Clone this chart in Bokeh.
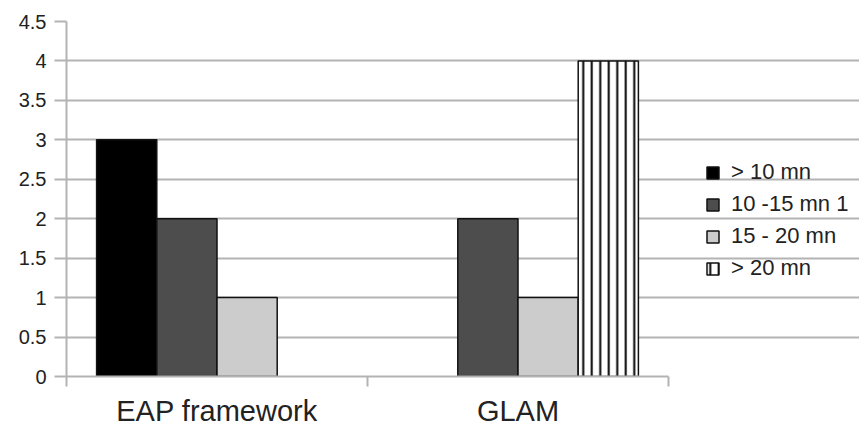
from bokeh.plotting import figure
from bokeh.models import ColumnDataSource, FixedTicker, Legend, LegendItem
from bokeh.embed import file_html
from bokeh.resources import INLINE

# ---- data ----
categories = ["EAP framework", "GLAM"]
series_names = ["> 10 mn", "10 -15 mn 1", "15 - 20 mn", "> 20 mn"]
vals_gt10 = [3, 0]
vals_10_15 = [2, 2]
vals_15_20 = [1, 1]
vals_gt20 = [0, 4]
y_ticks = [0, 0.5, 1, 1.5, 2, 2.5, 3, 3.5, 4, 4.5]
y_tick_labels = ["0", "0.5", "1", "1.5", "2", "2.5", "3", "3.5", "4", "4.5"]

series_values = [vals_gt10, vals_10_15, vals_15_20, vals_gt20]

# ---- styles / layout ----
fills = ["#000000", "#4d4d4d", "#cccccc", "#ffffff"]
hatches = [None, None, None, "vertical_line"]
FONT = "Liberation Sans"
GRID = "#b3b3b3"
TXT = "#222222"

W, H = 859, 429
LEFT, TOP, RIGHT = 66, 21, 0
frame_w = W - LEFT - RIGHT
px_per_cat = 301.0
x_end = frame_w / px_per_cat  # data area beyond the categories holds the legend

bar_w = 0.2
n_series = len(series_names)
n_cat = len(categories)

p = figure(width=W, height=H, x_range=(0, x_end), y_range=(0, 4.5),
           output_backend="svg", toolbar_location=None,
           min_border_left=LEFT, min_border_right=RIGHT, min_border_top=TOP, min_border_bottom=40)
p.outline_line_color = None

renderers = []
for j, (name, vals) in enumerate(zip(series_names, series_values)):
    xs, tops = [], []
    for i, v in enumerate(vals):
        if v > 0:
            xs.append(i + 0.5 + (j - (n_series - 1) / 2) * bar_w)
            tops.append(v)
    src = ColumnDataSource(dict(x=xs, top=tops))
    kw = {}
    if hatches[j]:
        kw = dict(hatch_pattern=hatches[j], hatch_scale=8.5, hatch_weight=2, hatch_color="black")
    r = p.vbar(x="x", top="top", bottom=0, width=bar_w, source=src,
               fill_color=fills[j], line_color="#111111", line_width=1.5, **kw)
    renderers.append(r)

# y axis
p.yaxis.ticker = FixedTicker(ticks=y_ticks)
p.yaxis.major_label_overrides = {t: l for t, l in zip(y_ticks, y_tick_labels)}
p.yaxis.major_label_text_font = FONT
p.yaxis.major_label_text_font_size = "20px"
p.yaxis.major_label_text_color = TXT
p.yaxis.axis_line_color = GRID
p.yaxis.axis_line_width = 2
p.yaxis.major_tick_line_color = GRID
p.yaxis.major_tick_line_width = 2
p.yaxis.major_tick_out = 12
p.yaxis.major_tick_in = 0
p.yaxis.minor_tick_line_color = None
p.yaxis.major_label_standoff = 8
p.ygrid.ticker = FixedTicker(ticks=y_ticks)
p.ygrid.grid_line_color = GRID
p.ygrid.grid_line_width = 2
p.ygrid.bounds = (0, n_cat)
p.xgrid.visible = False

# x axis
p.xaxis.ticker = FixedTicker(ticks=[i + 0.5 for i in range(n_cat)],
                             minor_ticks=list(range(n_cat + 1)))
p.xaxis.bounds = (0, n_cat)
p.xaxis.major_label_overrides = {i + 0.5: c for i, c in enumerate(categories)}
p.xaxis.major_label_text_font = FONT
p.xaxis.major_label_text_font_size = "29px"
p.xaxis.major_label_text_color = TXT
p.xaxis.axis_line_color = GRID
p.xaxis.axis_line_width = 2
p.xaxis.major_tick_line_color = None
p.xaxis.major_tick_out = 0
p.xaxis.major_tick_in = 0
p.xaxis.minor_tick_line_color = GRID
p.xaxis.minor_tick_line_width = 2
p.xaxis.minor_tick_out = 10
p.xaxis.minor_tick_in = 0
p.xaxis.major_label_standoff = 8

legend = Legend(items=[LegendItem(label=n, renderers=[r]) for n, r in zip(series_names, renderers)],
                location=(639, 95), orientation="vertical")
legend.border_line_color = None
legend.background_fill_alpha = 0
legend.label_text_font = FONT
legend.label_text_font_size = "22px"
legend.label_text_color = TXT
legend.glyph_width = 15
legend.glyph_height = 15
legend.label_height = 25
legend.spacing = 6
legend.padding = 0
legend.margin = 0
legend.label_standoff = 11
p.add_layout(legend, "center")

open("out.html", "w").write(file_html(p, INLINE))
